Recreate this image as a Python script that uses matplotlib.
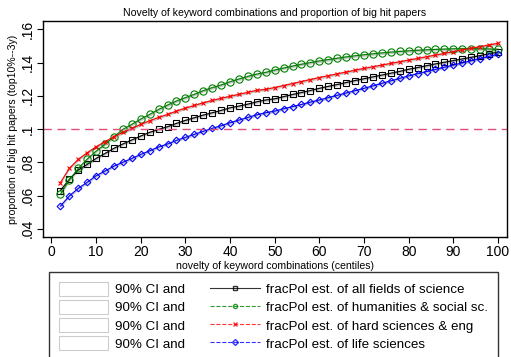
import numpy as np
import matplotlib
matplotlib.use("Agg")
import matplotlib.pyplot as plt
from matplotlib.patches import Patch
from matplotlib.lines import Line2D

plt.rcParams['font.family'] = ['Liberation Sans', 'DejaVu Sans']

# novelty centiles 2..100 step 2
x = np.arange(2, 101, 2)

all_fields = [0.0630, 0.0697, 0.0753, 0.0787, 0.0823, 0.0853, 0.0884, 0.0910, 0.0934, 0.0958,
              0.0980, 0.0998, 0.1014, 0.1034, 0.1052, 0.1068, 0.1084, 0.1098, 0.1112, 0.1128,
              0.1138, 0.1150, 0.1164, 0.1175, 0.1182, 0.1195, 0.1208, 0.1220, 0.1232, 0.1245,
              0.1257, 0.1268, 0.1280, 0.1292, 0.1303, 0.1314, 0.1325, 0.1336, 0.1347, 0.1360,
              0.1370, 0.1381, 0.1392, 0.1402, 0.1412, 0.1422, 0.1432, 0.1442, 0.1453, 0.1463]
humanities = [0.0607, 0.0693, 0.0763, 0.0819, 0.0867, 0.0908, 0.0954, 0.0998, 0.1028, 0.1060,
              0.1088, 0.1118, 0.1144, 0.1169, 0.1189, 0.1209, 0.1231, 0.1249, 0.1265, 0.1285,
              0.1301, 0.1317, 0.1331, 0.1341, 0.1355, 0.1367, 0.1379, 0.1390, 0.1400, 0.1410,
              0.1418, 0.1426, 0.1434, 0.1441, 0.1447, 0.1453, 0.1458, 0.1463, 0.1467, 0.1471,
              0.1474, 0.1477, 0.1479, 0.1481, 0.1483, 0.1484, 0.1484, 0.1483, 0.1482, 0.1480]
hard_sci = [0.0677, 0.0763, 0.0817, 0.0857, 0.0893, 0.0924, 0.0954, 0.0980, 0.1004, 0.1028,
            0.1050, 0.1070, 0.1088, 0.1108, 0.1126, 0.1142, 0.1158, 0.1172, 0.1185, 0.1197,
            0.1209, 0.1221, 0.1233, 0.1239, 0.1250, 0.1262, 0.1274, 0.1286, 0.1298, 0.1310,
            0.1321, 0.1332, 0.1343, 0.1354, 0.1365, 0.1375, 0.1385, 0.1395, 0.1405, 0.1415,
            0.1425, 0.1435, 0.1445, 0.1455, 0.1466, 0.1476, 0.1486, 0.1496, 0.1506, 0.1516]
life_sci = [0.0536, 0.0597, 0.0643, 0.0679, 0.0719, 0.0747, 0.0777, 0.0800, 0.0823, 0.0847,
            0.0869, 0.0892, 0.0910, 0.0932, 0.0950, 0.0968, 0.0986, 0.1004, 0.1020, 0.1038,
            0.1054, 0.1070, 0.1086, 0.1098, 0.1108, 0.1122, 0.1135, 0.1148, 0.1162, 0.1175,
            0.1189, 0.1203, 0.1217, 0.1231, 0.1245, 0.1260, 0.1275, 0.1290, 0.1305, 0.1320,
            0.1333, 0.1346, 0.1359, 0.1372, 0.1385, 0.1398, 0.1411, 0.1424, 0.1437, 0.1450]

series = [
    (all_fields, 'black', '-', 's', 'fracPol est. of all fields of science'),
    (humanities, 'green', '--', 'o', 'fracPol est. of humanities & social sc.'),
    (hard_sci, 'red', '--', 'x', 'fracPol est. of hard sciences & eng'),
    (life_sci, 'blue', '--', 'D', 'fracPol est. of life sciences'),
]

fig = plt.figure(figsize=(5.11, 3.57), dpi=100)
ax = fig.add_axes([0.084, 0.336, 0.908, 0.605])

for vals, col, ls, mk, lab in series:
    v = np.array(vals)
    ax.fill_between(x, v - 0.0009, v + 0.0009, color='#c8c8c8', lw=0)
for vals, col, ls, mk, lab in series:
    ms = {'o': 5.2, 's': 3.8, 'x': 3.5, 'D': 3.4}[mk]
    ax.plot(x, vals, color=col, ls='-', lw=0.8, marker=mk, ms=ms,
            mfc='none', mec=col, mew=0.8)

ax.axhline(0.1, color='#e0507a', ls=(0, (6, 4)), lw=1)

ax.set_xlim(-1.9, 102)
ax.set_ylim(0.035, 0.165)
ax.set_xticks(np.arange(0, 101, 10))
yt = [0.04, 0.06, 0.08, 0.10, 0.12, 0.14, 0.16]
ax.set_yticks(yt)
ax.set_yticklabels(['.04', '.06', '.08', '.1', '.12', '.14', '.16'], rotation=90, va='center')
ax.tick_params(labelsize=10, length=4, width=0.8, pad=2)
for s in ax.spines.values():
    s.set_linewidth(1)
ax.set_title('Novelty of keyword combinations and proportion of big hit papers', fontsize=7.6, pad=4)
ax.set_xlabel('novelty of keyword combinations (centiles)', fontsize=7.6, labelpad=1)
ax.set_ylabel('proportion of big hit papers (top10%--3y)', fontsize=7.6, labelpad=2)

handles = [Patch(facecolor='white', edgecolor='#cccccc', lw=0.8) for _ in range(4)]
labels = ['90% CI and'] * 4
for vals, col, ls, mk, lab in series:
    handles.append(Line2D([], [], color=col, ls=ls, lw=0.8, marker=mk, ms=3,
                          mfc='none', mec=col, alpha=0.8))
    labels.append(lab)

leg = fig.legend(handles, labels, ncol=2, loc='upper left', bbox_to_anchor=(0.096, 0.238),
                 fontsize=9.6, frameon=True, fancybox=False, edgecolor='black',
                 handlelength=3.7, handleheight=1.2, labelspacing=0.28, columnspacing=1.9,
                 borderpad=0.75, handletextpad=0.5, borderaxespad=0)
leg.get_frame().set_linewidth(1)

fig.savefig('out.png', dpi=100)
